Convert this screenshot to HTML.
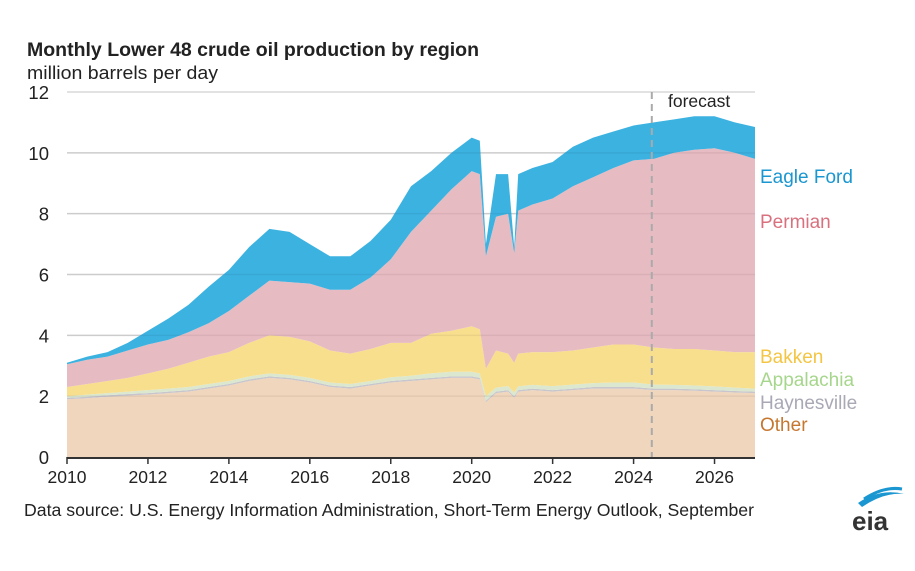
<!DOCTYPE html>
<html><head><meta charset="utf-8"><style>
body{margin:0;background:#fff;width:915px;height:566px;overflow:hidden;font-family:"Liberation Sans",Arial,sans-serif}
</style></head><body>
<svg id="chart" width="915" height="566" xmlns="http://www.w3.org/2000/svg" font-family="Liberation Sans, Arial, sans-serif">
<text x="27" y="56" font-size="19.5" font-weight="bold" fill="#222" textLength="452" lengthAdjust="spacingAndGlyphs">Monthly Lower 48 crude oil production by region</text>
<text x="27" y="79" font-size="18" fill="#222" textLength="191" lengthAdjust="spacingAndGlyphs">million barrels per day</text>
<g id="grid"></g><g id="areas"></g><g id="axes"></g>
<text x="24" y="516" font-size="17.5" fill="#222" textLength="730" lengthAdjust="spacingAndGlyphs">Data source: U.S. Energy Information Administration, Short-Term Energy Outlook, September</text>
<g>
<path d="M858 503 Q880 488 904 494 Q884 492 862 507Z" fill="#1a96d0"/>
<path d="M864 499 Q884 486 902 489" stroke="#1a96d0" stroke-width="3" fill="none"/>
<text x="852" y="530" font-size="26" font-weight="bold" fill="#333">eia</text>
</g>
</svg>
<script>
const dates=[2010,2010.5,2011,2011.5,2012,2012.5,2013,2013.5,2014,2014.5,2015,2015.5,2016,2016.5,2017,2017.5,2018,2018.5,2019,2019.5,2020,2020.2,2020.35,2020.6,2020.9,2021.05,2021.15,2021.5,2022,2022.5,2023,2023.5,2024,2024.5,2025,2025.5,2026,2026.5,2027];
const other=[1.90,1.93,1.98,2.02,2.05,2.10,2.15,2.25,2.35,2.50,2.60,2.55,2.45,2.30,2.25,2.35,2.45,2.50,2.55,2.60,2.60,2.55,1.80,2.10,2.15,1.95,2.15,2.20,2.15,2.20,2.25,2.25,2.25,2.20,2.20,2.18,2.15,2.12,2.10];
const haynesville=[.05,.05,.05,.05,.05,.05,.05,.05,.05,.05,.05,.05,.05,.05,.05,.05,.05,.05,.05,.05,.05,.05,.05,.05,.05,.05,.05,.05,.05,.05,.05,.05,.05,.05,.05,.05,.05,.05,.05];
const appalachia=[.05,.07,.07,.08,.10,.10,.10,.10,.10,.10,.10,.10,.10,.10,.10,.10,.12,.12,.15,.15,.15,.15,.15,.13,.13,.12,.12,.12,.13,.13,.13,.15,.15,.13,.12,.12,.12,.11,.10];
const bakken=[.30,.35,.40,.45,.55,.65,.80,.90,.95,1.10,1.25,1.25,1.20,1.05,1.00,1.05,1.13,1.08,1.30,1.35,1.50,1.45,.90,1.22,1.07,.98,1.08,1.08,1.12,1.12,1.17,1.25,1.25,1.22,1.18,1.20,1.18,1.17,1.20];
const permian=[.75,.80,.80,.90,.95,.95,1.00,1.10,1.35,1.55,1.80,1.80,1.90,2.00,2.10,2.35,2.75,3.65,4.05,4.65,5.10,5.10,3.70,4.40,4.60,3.60,4.70,4.85,5.05,5.40,5.60,5.80,6.05,6.20,6.45,6.55,6.65,6.55,6.35];
const eagleFord=[.05,.10,.15,.25,.45,.70,.90,1.20,1.35,1.60,1.70,1.65,1.30,1.10,1.10,1.20,1.30,1.50,1.30,1.20,1.10,1.10,.40,1.40,1.30,.20,1.20,1.20,1.20,1.30,1.30,1.20,1.15,1.20,1.10,1.10,1.05,1.00,1.05];
const yTicks=[0,2,4,6,8,10,12];
const xTicks=[2010,2012,2014,2016,2018,2020,2022,2024,2026];
const forecastStart=2024.45;

const NS="http://www.w3.org/2000/svg";
const X=d=>67+(d-2010)*(755-67)/17;
const Y=v=>457-v*(457-92)/12;
function mk(tag,attrs,parent){const e=document.createElementNS(NS,tag);for(const k in attrs)e.setAttribute(k,attrs[k]);parent.appendChild(e);return e;}
const grid=document.getElementById('grid'),areas=document.getElementById('areas'),axes=document.getElementById('axes');
yTicks.forEach(t=>{
  if(t>0){const l=mk('line',{x1:67,x2:755,y1:Y(t),y2:Y(t),stroke:'#d9d9d9','stroke-width':1.5},grid);
  
  }
  const tx=mk('text',{x:49,y:Y(t)+7,'font-size':18.5,'text-anchor':'end',fill:'#222'},axes);tx.textContent=t;
  
  
});
const series=[['other',other,'#f0d6bc'],['haynesville',haynesville,'#c8c6cc'],['appalachia',appalachia,'#dbe8cf'],['bakken',bakken,'#f8df8e'],['permian',permian,'#e7bbc2'],['eagle-ford',eagleFord,'#3cb2e1']];
let base=dates.map(()=>0);
series.forEach(([n,vals,c])=>{
  const top=base.map((b,i)=>b+vals[i]);
  let d='M'+dates.map((dt,i)=>X(dt).toFixed(1)+','+Y(top[i]).toFixed(1)).join('L');
  for(let i=dates.length-1;i>=0;i--)d+='L'+X(dates[i]).toFixed(1)+','+Y(base[i]).toFixed(1);
  const p=mk('path',{d:d+'Z',fill:c},areas);
  
  
  base=top;
});
yTicks.forEach(t=>{if(t>0&&t<12){mk('line',{x1:67,x2:755,y1:Y(t),y2:Y(t),stroke:'rgba(0,0,0,0.06)','stroke-width':1.5},areas);}});
const fl=mk('line',{x1:X(forecastStart),x2:X(forecastStart),y1:92,y2:457,stroke:'#aaa','stroke-width':2,'stroke-dasharray':'7,5'},axes);


const ft=mk('text',{x:668,y:107,'font-size':17.5,fill:'#222'},axes);ft.textContent='forecast';


const ax=mk('line',{x1:67,x2:755,y1:458,y2:458,stroke:'#333','stroke-width':2},axes);


xTicks.forEach(t=>{
  mk('line',{x1:X(t),x2:X(t),y1:457,y2:464,stroke:'#333','stroke-width':1.5},axes);
  const tx=mk('text',{x:X(t),y:483,'font-size':17.5,'text-anchor':'middle',fill:'#222'},axes);tx.textContent=t;
  
  
});
[['Eagle Ford',183,'#1a96d0'],['Permian',228,'#d9707e'],['Bakken',363,'#f4c542'],['Appalachia',386,'#a6d68c'],['Haynesville',409,'#a9a9b6'],['Other',431,'#c6772f']].forEach(([t,y,c])=>{
  const tx=mk('text',{x:760,y:y,'font-size':19,fill:c},axes);tx.textContent=t;
  
  
});
</script>
</body></html>
